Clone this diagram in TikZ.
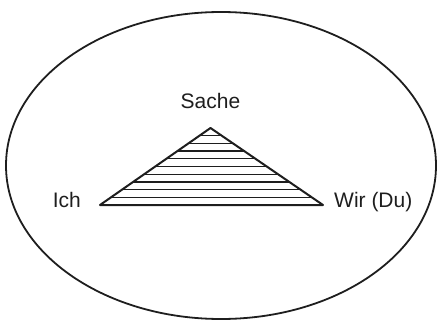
\documentclass[tikz,border=0pt]{standalone}
\usepackage{fontspec}
\setmainfont{Liberation Sans}
\usetikzlibrary{positioning,calc}
\definecolor{cInk}{HTML}{1E1E1E}
\tikzset{
  rim/.style={draw=cInk,line width=1.8pt},
  edge/.style={draw=cInk,line width=2pt,line join=round},
  hatch/.style={draw=cInk,line width=1.3pt},
  lbl/.style={font=\fontsize{21}{25}\selectfont,text=cInk,inner sep=3pt},
}

\begin{document}
\begin{tikzpicture}[x=1pt,y=1pt]
    \useasboundingbox (0,0) rectangle (438,322);
    \draw[rim] (221,156.5) ellipse [x radius=215,y radius=153.5];
    % triangle corners
    \coordinate (apex) at (210.5,194);
    \coordinate (L) at (100,117);
    \coordinate (R) at (323,117);
    \foreach \t in {0.1,0.2,...,0.95}{
      \draw[hatch] ($(L)!\t!(apex)$) -- ($(R)!\t!(apex)$);}
    \draw[edge] (L) -- (apex) -- (R) -- cycle;
    \node[lbl,anchor=base] (sache) at ([yshift=20pt]apex) {Sache};
    \node[lbl,anchor=base east] (ich) at ([xshift=-16pt,yshift=-2pt]L) {Ich};
    \node[lbl,anchor=base west] (wir) at ([xshift=8pt,yshift=-2pt]R) {Wir (Du)};
  \end{tikzpicture}
\end{document}
